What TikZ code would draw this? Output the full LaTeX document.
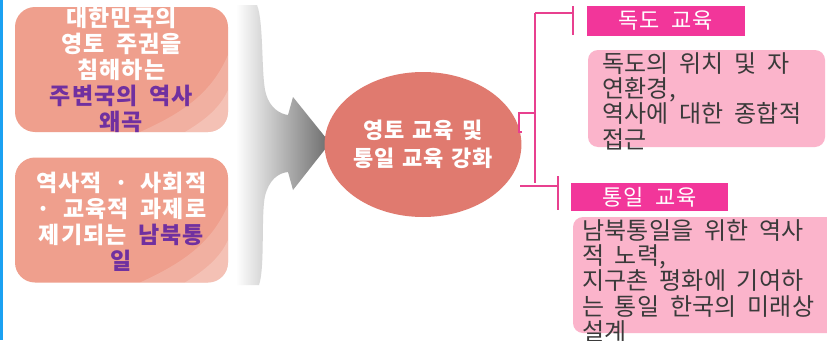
\documentclass[tikz,border=0pt]{standalone}
\usepackage{fontspec}
\setmainfont{Noto Sans CJK KR}
\newfontfamily\boxfont{Noto Sans CJK KR}[LetterSpace=4, WordSpace=1.2]
\newfontfamily\circfont{Noto Sans CJK KR}[LetterSpace=2, WordSpace=1.5]
\newfontfamily\labfont{Noto Sans CJK KR}[LetterSpace=4, WordSpace=2]
\newfontfamily\contfont{Noto Sans CJK KR}[LetterSpace=1, WordSpace=1.9]
\usetikzlibrary{shapes.geometric}
\definecolor{bluebar}{HTML}{1BA1F2}
\definecolor{salmon}{HTML}{EF9F8D}
\definecolor{circfill}{HTML}{E07A6F}
\definecolor{magenta}{HTML}{F2369A}
\definecolor{pinkbox}{HTML}{FBB4CB}
\definecolor{linepink}{HTML}{E8408F}
\definecolor{purpletxt}{HTML}{7030A0}
\definecolor{darktxt}{HTML}{3A3A3A}
\tikzset{
  leftbox/.style={draw=none, fill=salmon, rounded corners=20pt, minimum width=213pt, minimum height=125pt, inner sep=0pt},
  lefttext/.style={text=white, align=center, inner sep=0pt, font=\boxfont\fontsize{23}{26}\selectfont\bfseries},
  circnode/.style={ellipse, fill=circfill, minimum width=160pt, minimum height=145pt, inner sep=0pt, text=white, align=center, font=\circfont\fontsize{22}{28}\selectfont\bfseries},
  labelbox/.style={fill=magenta, text=white, inner sep=0pt, font=\labfont\fontsize{22}{24}\selectfont},
  contentbox/.style={fill=pinkbox, rounded corners=10pt, inner sep=0pt},
  contenttext/.style={text=darktxt, align=left, inner sep=0pt, anchor=west, font=\contfont\fontsize{24}{25.3}\selectfont},
  conn/.style={draw=linepink, line width=2pt},
}
\begin{document}
\begin{tikzpicture}[x=1pt,y=-1pt]
\useasboundingbox (0,0) rectangle (827,340);
\clip (0,0) rectangle (827,340);
\fill[white] (0,0) rectangle (827,340);
\fill[bluebar] (0,0) rectangle (2.5,340);

% left boxes
\node[leftbox] (b1) at (121.5,69.5) {};
\node[leftbox] (b2) at (121.5,220) {};
\begin{scope}
  \clip[rounded corners=20pt] (15,7) rectangle (228,132);
  \fill[white, opacity=0.18] (140,132) .. controls (185,112) and (212,92) .. (228,55) -- (228,132) -- cycle;
  \fill[white, opacity=0.22] (185,132) .. controls (205,120) and (220,108) .. (228,90) -- (228,132) -- cycle;
\end{scope}
\begin{scope}
  \clip[rounded corners=20pt] (15,157.5) rectangle (228,282.5);
  \fill[white, opacity=0.18] (140,282.5) .. controls (185,262) and (212,242) .. (228,205) -- (228,282.5) -- cycle;
  \fill[white, opacity=0.22] (185,282.5) .. controls (205,270) and (220,258) .. (228,240) -- (228,282.5) -- cycle;
\end{scope}
\node[lefttext] (t1) at (b1.center) {대한민국의\\영토 주권을\\침해하는\\{\color{purpletxt}주변국의 역사}\\{\color{purpletxt}왜곡}};
\node[lefttext] (t2) at (121.5,221.5) {역사적 · 사회적\\· 교육적 과제로\\제기되는 {\color{purpletxt}남북통}\\{\color{purpletxt}일}};

% big arrow
\shade[left color=white, right color=black!58]
  (236,5) -- (257,5) .. controls (264,22) and (261,78) .. (266,94)
  .. controls (270,108) and (280,114) .. (288,115) -- (293,97) -- (330,143)
  -- (293,190) -- (288,172) .. controls (278,173) and (269,180) .. (265,196)
  .. controls (261,214) and (265,268) .. (259,285) -- (236,285) -- cycle;

% circle
\node[circnode] (c) at (423,144.5) {영토 교육 및\\통일 교육 강화};

% right labels and boxes
\node[labelbox, minimum width=158pt, minimum height=30pt] (l1) at (666,21) {독도 교육};
\node[contentbox, minimum width=237pt, minimum height=97pt] (p1) at (706.5,98.5) {};
\node[contenttext] (pt1) at (602,101) {독도의 위치 및 자\\연환경,\\역사에 대한 종합적\\접근};

\node[labelbox, minimum width=157pt, minimum height=28pt] (l2) at (649.5,197) {통일 교육};
\node[contentbox, minimum width=280pt, minimum height=116pt] (p2) at (713,275) {};
\node[contenttext] (pt2) at (582,281) {남북통일을 위한 역사\\적 노력,\\지구촌 평화에 기여하\\는 통일 한국의 미래상\\설계};

% connectors
\coordinate (j1) at (519,132);
\coordinate (j2) at (519,113);
\coordinate (j3) at (535,113);
\coordinate (vt) at (535,13);
\coordinate (vb) at (535,183);
\coordinate (ht) at (573,13);
\coordinate (hb1) at (520,186);
\coordinate (hb) at (558,186);
\draw[conn] (c.east |- j1) -- (j1) -- (j2) -- (j3);
\draw[conn] (vt) -- (vb);
\draw[conn] (vt) -- (ht);
\draw[conn] (ht |- 0,6) -- (ht |- 0,35);
\draw[conn] (hb1) -- (hb);
\draw[conn] (hb |- 0,176) -- (hb |- 0,210);
\end{tikzpicture}
\end{document}
